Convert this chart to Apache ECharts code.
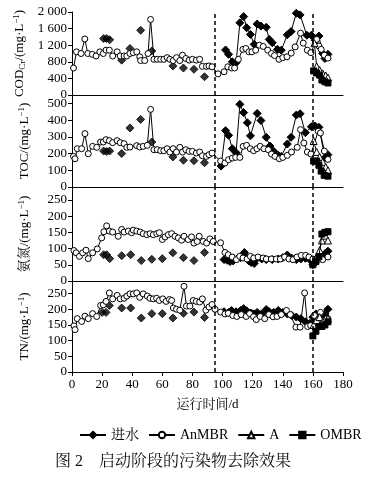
<!DOCTYPE html>
<html><head><meta charset="utf-8">
<script src="https://cdn.jsdelivr.net/npm/echarts@6/dist/echarts.min.js"></script>
<style>html,body{margin:0;padding:0;background:#fff}#c{width:367px;height:477px}</style>
</head><body><div id="c"></div>
<script>
// ---- data: [day, value] ----
const legendNames = ['进水', 'AnMBR', 'A', 'OMBR'];
const phaseLines = [95, 160];

// COD (mg/L)
const codInf1 = [[21,1360],[23,1360],[25,1330],[33,840],[38.5,1120],[45.6,1560],[53,1060],[67,700],[74,650],[81,620],[88,440]];
const codInf2 = [[102,1085],[104,980],[106.5,800],[109,780],[111.5,1740],[114,1890],[116,1620],[118.5,1460],[121,1220],[123,1710],[125.5,1660],[129,1630],[131,1340],[133,1260],[136.5,1100],[139,1080],[143,1450],[145.5,1530],[149,1970],[151.5,1930],[156,1440],[159,1440],[161.5,1320],[164,1420],[166.5,1000],[168,880],[170,980]];
const codAn = [[1,650],[3,1040],[6,1000],[8.5,1350],[10.5,1000],[13.5,980],[16,940],[18.5,1040],[20.8,1000],[22.6,1080],[24.8,1080],[27,940],[30,1040],[32,940],[34.6,940],[36.4,940],[38.5,1000],[40.7,1020],[43,1040],[45,920],[45.6,830],[48.3,830],[50.5,1000],[52.2,1820],[54.4,860],[56.6,860],[58.9,860],[61,860],[63.2,900],[65,860],[67.2,830],[69.4,900],[71.6,830],[73.4,960],[75.6,880],[77.8,840],[80,860],[82.6,840],[84.8,860],[86.6,690],[89.3,690],[91,700],[93,680],[97,510],[101,560],[103.5,680],[106,650],[108,650],[110.5,860],[113.5,1100],[115.5,1120],[117.5,1040],[119.5,1040],[122,1080],[124.5,1200],[127,1170],[130,1080],[132.5,1000],[134.5,950],[137.5,860],[140,900],[142.8,920],[145.6,1010],[148.2,1160],[151.8,1490],[153.6,1250],[156.3,1080],[158.7,1020],[162.5,1340],[164,1180],[165.5,1100],[167.6,960],[170,890]];
const codA = [[161,1250],[162.5,690],[164.5,600],[166.5,520],[168.5,470],[170,420]];
const codO = [[160.5,580],[162.5,530],[164.5,480],[166,360],[168,320],[170,290]];

// TOC (mg/L)
const tocInf1 = [[21,215],[23,212],[25,215],[33,200],[38.5,353],[45.6,404],[53,269],[67,180],[74,160],[81,157],[88,145]];
const tocInf2 = [[99,125],[102,337],[104,309],[106.5,229],[109,205],[111.5,494],[114,445],[116.5,384],[118.5,306],[123,440],[125.5,397],[129,297],[131.5,245],[134,213],[137,189],[139,183],[143,257],[145.5,297],[149,430],[151.5,438],[155,325],[159,360],[161.5,365],[164,357],[168,175],[170,193]];
const tocAn = [[1,183],[2,169],[3.5,229],[6.4,229],[8.6,319],[10.8,199],[13.7,243],[16.4,237],[19,269],[20.8,269],[22.6,283],[24.8,277],[27,265],[30,277],[32,265],[34.6,259],[36.4,237],[38.5,239],[43,247],[45,239],[47.3,243],[50,249],[52.2,464],[54.4,223],[56.6,223],[58.9,217],[61,217],[63.2,229],[65,209],[67.2,229],[69.4,209],[71.6,237],[73.4,209],[75.6,223],[77.8,213],[80,213],[82.6,203],[84.8,209],[86.6,187],[89.3,183],[91,193],[93,203],[98.7,155],[101.6,143],[104,163],[106.5,173],[108.7,177],[111.5,177],[113.7,243],[116,249],[118.4,229],[120.6,217],[122.8,229],[125,243],[127.5,229],[130.4,223],[132.5,197],[134.8,183],[137.7,169],[140,177],[143,189],[145.8,209],[149.6,237],[151.8,343],[154,263],[156.3,209],[158.7,197],[163.5,333],[165,323],[167.6,215],[170,165]];
const tocA = [[160.5,275],[162.5,210],[164.5,180],[166.5,150],[168.5,120],[170,100]];
const tocO = [[160.5,155],[162.5,155],[164,130],[165.5,95],[167.5,70],[170,65]];

// 氨氮 (mg/L)
const nhInf1 = [[21,81],[23,81],[25,69],[33,78],[39,81],[46,63],[53,67],[60,69],[67,87],[74,72],[81,63],[88,88]];
const nhInf2 = [[101,66],[103,64],[105,60],[107,62],[110,70],[112,72],[114.5,88],[116,74],[117.5,62],[119,57],[121,54],[123,70],[126,68],[129,66],[133,66],[137,68],[140,72],[143,80],[146,70],[149,66],[152,68],[155,70],[158,66],[160,50],[162,62],[164,72],[166,76],[168,84],[170,92]];
const nhAn = [[1.3,94],[2.7,87],[4.9,76],[7.1,87],[9.3,95],[10.8,69],[13.7,87],[16.8,99],[19.7,133],[21.2,152],[23,170],[24.8,154],[27,151],[30.7,138],[33,159],[34.6,151],[37.4,154],[39.6,149],[40.7,157],[43,154],[45.3,151],[47.3,146],[49.7,143],[51.9,146],[54,143],[56.3,146],[58,149],[60,128],[61.8,136],[64,143],[66.2,146],[68.4,138],[70.6,133],[72.8,126],[74.4,138],[77.2,128],[79.4,136],[81,117],[83.2,122],[84.5,138],[87.2,122],[89.4,117],[91.6,130],[93.8,122],[98.7,118],[101.6,88],[103.8,81],[106.4,74],[109.2,66],[111.4,76],[113.6,71],[116.3,68],[118.5,76],[120.7,71],[123.6,74],[126.9,71],[129.1,68],[132.4,68],[135.7,68],[138.4,68],[141.2,74],[144.1,68],[146.8,66],[149.4,74],[152.3,79],[155.2,79],[157.4,74],[160,68],[163.6,66],[166.5,66],[170,74]];
const nhA = [[160.5,60],[162.5,75],[164.5,95],[166,125],[168,140],[170,125]];
const nhO = [[160,50],[162,60],[164,75],[166,145],[168,150],[170,152]];

// TN (mg/L)
const tnInf1 = [[20,190],[22.6,190],[24.8,212],[33,204],[39,204],[46,172],[53,186],[60,186],[67,172],[74,187],[81,191],[88,174]];
const tnInf2 = [[101,192],[104,190],[106,196],[109,192],[112,196],[114,202],[116,195],[119,188],[121,185],[123,190],[126,185],[129,199],[131,192],[134,190],[137,196],[140,190],[143,185],[146,180],[149,175],[152,170],[155,160],[158,155],[160,175],[162,185],[164,180],[166,170],[168,185],[170,200]];
const tnAn = [[1.3,147],[2,135],[3.5,170],[6.4,161],[8.6,178],[10.8,170],[13.7,186],[16.4,177],[19,212],[20.8,214],[22.6,225],[24.8,252],[27,233],[30,244],[32,233],[34.6,235],[36.4,242],[38.5,249],[40.7,249],[43,252],[45,238],[47.3,249],[50,242],[51.8,235],[54,233],[56.2,235],[58,228],[60.3,233],[62.5,225],[64.7,231],[66.2,228],[67.3,204],[69.4,200],[71.6,197],[74.4,273],[76,210],[78.3,210],[80.5,228],[82.6,225],[84.8,223],[86.6,233],[88.9,197],[91,207],[93,215],[95,200],[98.7,191],[101.6,185],[103.8,187],[106.8,180],[109.5,177],[112.4,183],[115.7,177],[118,186],[120.6,176],[122.4,167],[125,177],[128,170],[130.8,183],[133.5,176],[136.2,177],[139,183],[142.5,196],[145,183],[148.7,143],[151.5,143],[154.5,252],[156.5,145],[158.5,148],[161,180],[163.5,164],[165,190],[167.5,164],[170,170]];
const tnA = [[160.5,150],[162.5,165],[164.5,175],[166.5,160],[168.5,170],[170,170]];
const tnO = [[160,115],[162,130],[164,145],[166,145],[168,150],[170,160]];

const yNames = ['COD{s|Cr}/(mg·L{p|−1})', 'TOC/(mg·L{p|−1})', '氨氮/(mg·L{p|−1})', 'TN/(mg·L{p|−1})'];
const xName = '运行时间/d';
const caption = '图 2　启动阶段的污染物去除效果';

// ---- layout ----
const SERIF = '"Liberation Serif","Times New Roman","Noto Serif CJK SC","Noto Sans CJK SC",serif';
const thousands = v => v >= 1000 ? Math.floor(v / 1000) + ' ' + String(v % 1000).padStart(3, '0') : String(v);
const panels = [
  {top: 12, height: 83, max: 2000, interval: 400, d: [codInf1, codInf2, codAn, codA, codO], fmt: thousands},
  {top: 95, height: 92, max: 550, interval: 100, d: [tocInf1, tocInf2, tocAn, tocA, tocO]},
  {top: 187, height: 94, max: 290, interval: 50, d: [nhInf1, nhInf2, nhAn, nhA, nhO]},
  {top: 281, height: 91, max: 290, interval: 50, d: [tnInf1, tnInf2, tnAn, tnA, tnO]}
];

const grid = [], xAxis = [], yAxis = [], series = [];
const black = '#000';
panels.forEach((p, i) => {
  const last = i === panels.length - 1;
  grid.push({left: 72, width: 271, top: p.top, height: p.height});
  xAxis.push({
    type: 'value', gridIndex: i, min: 0, max: 180, interval: 20,
    axisLine: {show: true, lineStyle: {color: black, width: 1}},
    axisTick: {show: last, length: 4, lineStyle: {color: black}},
    axisLabel: {show: last, margin: 6, fontFamily: SERIF, fontSize: 13, color: black},
    splitLine: {show: false},
    name: last ? xName : '', nameLocation: 'middle', nameGap: 26,
    nameTextStyle: {fontFamily: SERIF, fontSize: 13, color: black}
  });
  yAxis.push({
    type: 'value', gridIndex: i, min: 0, max: p.max, interval: p.interval,
    axisLine: {show: true, lineStyle: {color: black, width: 1}},
    axisTick: {show: true, length: 4, lineStyle: {color: black}},
    axisLabel: {margin: 5, fontFamily: SERIF, fontSize: 13, color: black, hideOverlap: false,
      formatter: v => (v % p.interval !== 0) ? '' : (p.fmt ? p.fmt(v) : String(v))},
    splitLine: {show: false},
    name: yNames[i], nameLocation: 'middle', nameGap: 40,
    nameTextStyle: {fontFamily: SERIF, fontSize: 13, color: black, lineHeight: 15,
      rich: {s: {fontFamily: SERIF, fontSize: 9, verticalAlign: 'bottom', lineHeight: 15},
             p: {fontFamily: SERIF, fontSize: 9, verticalAlign: 'top', lineHeight: 15}}}
  });
  const base = {xAxisIndex: i, yAxisIndex: i, type: 'line', animation: false,
    lineStyle: {color: black, width: 1}, itemStyle: {color: black, borderColor: black, borderWidth: 1}};
  series.push(Object.assign({}, base, {name: legendNames[0], data: p.d[1], symbol: 'diamond', symbolSize: 8, z: 2}));
  series.push(Object.assign({}, base, {name: legendNames[0], type: 'scatter', data: p.d[0], symbol: 'diamond', symbolSize: 8, z: 2}));
  series.push(Object.assign({}, base, {name: legendNames[1], data: p.d[2], symbol: 'circle', symbolSize: 6, z: 3,
    itemStyle: {color: '#fff', borderColor: black, borderWidth: 1},
    markLine: {silent: true, symbol: 'none', animation: false, label: {show: false},
      lineStyle: {type: [4, 3], color: black, width: 1.5},
      data: phaseLines.map(x => ({xAxis: x}))}}));
  series.push(Object.assign({}, base, {name: legendNames[2], data: p.d[3], symbol: 'triangle', symbolSize: 7, z: 4,
    itemStyle: {color: '#fff', borderColor: black, borderWidth: 1}}));
  series.push(Object.assign({}, base, {name: legendNames[3], data: p.d[4], symbol: 'rect', symbolSize: 6, z: 5}));
});

const chart = echarts.init(document.getElementById('c'), null, {renderer: 'canvas'});
chart.setOption({
  backgroundColor: '#fff',
  animation: false,
  title: {text: caption, left: 50, top: 449, textStyle: {fontFamily: SERIF, fontSize: 16, fontWeight: 'normal', color: '#111'}},
  legend: {data: legendNames, top: 423, left: 74, width: 293, itemWidth: 26, itemHeight: 8, itemGap: 9,
    textStyle: {fontFamily: SERIF, fontSize: 14, color: black}},
  grid, xAxis, yAxis, series
});
</script></body></html>
